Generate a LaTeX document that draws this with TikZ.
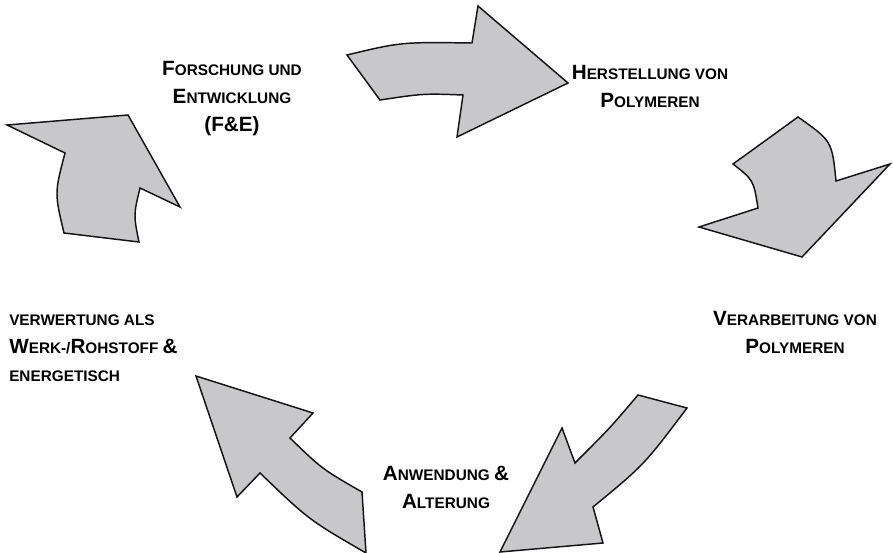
\documentclass[tikz,border=0pt]{standalone}
\usepackage{fontspec}
\setmainfont{Liberation Sans}
\usepackage{tikz}
\usetikzlibrary{positioning}
\definecolor{PfeilGrau}{RGB}{200,200,202}
\definecolor{PfeilRand}{RGB}{20,20,20}
\newcommand{\gross}[1]{{\fontsize{15.5}{21}\selectfont #1}}
\tikzset{
  pfeil/.style={fill=PfeilGrau, draw=PfeilRand, line width=1.1pt, line join=miter},
  stufe/.style={align=center, inner sep=0pt, font=\bfseries\fontsize{11.5}{21}\selectfont}
}

\begin{document}
\begin{tikzpicture}[x=0.75pt, y=-0.75pt]
  \useasboundingbox (0,0) rectangle (893,553);
  % Pfeile im Kreis
  \draw[pfeil] (347,55) .. controls (401,42) .. (472,43) -- (478,6) -- (568,83)
    -- (457,137) -- (463,95) .. controls (423.5,93.5) .. (380,100) -- cycle;
  \draw[pfeil] (798,117) -- (733,164) .. controls (753.5,180) .. (758,208) -- (699,227)
    -- (802,257) -- (890,164) -- (836,181) .. controls (832,141) .. (798,117) -- cycle;
  \draw[pfeil] (638,395) -- (687,408) .. controls (644,465) .. (593,507) -- (603,543)
    -- (500,552) -- (562,428) -- (575,463) .. controls (610,428) .. (638,395) -- cycle;
  \draw[pfeil] (196,376) -- (313,413) -- (290,438) .. controls (322,469) .. (362,492)
    -- (366,553) .. controls (309,520) .. (260,473) -- (237,497) -- cycle;
  \draw[pfeil] (7,125) -- (128,115) -- (180,207) -- (140,188) .. controls (133.5,215) .. (139,242)
    -- (64,233) .. controls (54.5,193) .. (65,153) -- cycle;
  % Stufen
  \node[stufe] (fue) at (232,99) {\gross{F}ORSCHUNG UND\\\gross{E}NTWICKLUNG\\\gross{(F\&E)}};
  \node[stufe] (herst) at (650,86) {\gross{H}ERSTELLUNG VON\\\gross{P}OLYMEREN};
  \node[stufe] (verarb) at (795,332) {\gross{V}ERARBEITUNG VON\\\gross{P}OLYMEREN};
  \node[stufe] (anw) at (446,487) {\gross{A}NWENDUNG \gross{\&}\\\gross{A}LTERUNG};
  \node[stufe, align=left, anchor=west] (verw) at (9,348)
    {VERWERTUNG ALS\\\gross{W}ERK-/\gross{R}OHSTOFF \gross{\&}\\ENERGETISCH};
\end{tikzpicture}
\end{document}
